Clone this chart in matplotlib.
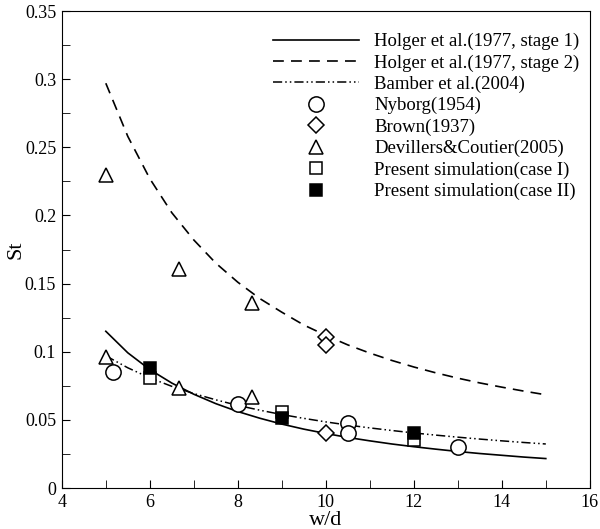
import matplotlib
matplotlib.use("Agg")
import matplotlib.pyplot as plt
from matplotlib.ticker import MultipleLocator

plt.rcParams['font.family'] = ['Liberation Serif', 'DejaVu Serif']

# Holger et al. (1977) curves, stage 1 and stage 2
curve_x = [5, 5.5, 6, 6.5, 7, 7.5, 8, 8.5, 9, 9.5, 10, 10.5, 11, 11.5,
           12, 12.5, 13, 13.5, 14, 14.5, 15]
holger_stage1 = [0.115, 0.0992, 0.0869, 0.0770, 0.0688, 0.0619, 0.0561, 0.0512,
                 0.0469, 0.0432, 0.0400, 0.0371, 0.0346, 0.0323, 0.0303, 0.0285,
                 0.0268, 0.0253, 0.0240, 0.0227, 0.0216]
holger_stage2 = [0.297, 0.258, 0.227, 0.202, 0.182, 0.165, 0.151, 0.139,
                 0.129, 0.1196, 0.112, 0.105, 0.099, 0.0936, 0.0888, 0.0845,
                 0.0806, 0.0771, 0.074, 0.0711, 0.0684]
# Bamber et al. (2004)
bamber = [0.097, 0.0882, 0.0808, 0.0746, 0.0693, 0.0647, 0.0606, 0.0571,
          0.0539, 0.0511, 0.0485, 0.0462, 0.0441, 0.0422, 0.0404, 0.0388,
          0.0373, 0.0359, 0.0346, 0.0334, 0.0323]

# experimental data
nyborg_x = [5.17, 8.0, 10.5, 10.5, 13.0]
nyborg_st = [0.0853, 0.0616, 0.0475, 0.0400, 0.0303]
brown_x = [10, 10, 10]
brown_st = [0.111, 0.105, 0.040]
devillers_x = [5, 5, 6.67, 6.67, 8.33, 8.33]
devillers_st = [0.230, 0.096, 0.1605, 0.0731, 0.136, 0.067]

# present simulations
case1_x = [6, 9, 12]
case1_st = [0.0805, 0.056, 0.0352]
case2_x = [6, 9, 12]
case2_st = [0.0878, 0.051, 0.0406]

fig = plt.figure(figsize=(6.0, 5.29), dpi=100)
ax = fig.add_axes([0.103, 0.0775, 0.88, 0.9017])

ax.plot(curve_x, holger_stage1, color='black', lw=1.2,
        label='Holger et al.(1977, stage 1)')
ax.plot(curve_x, holger_stage2, color='black', lw=1.2, dashes=(6.5, 4.3),
        label='Holger et al.(1977, stage 2)')
ax.plot(curve_x, bamber, color='black', lw=1.1, dashes=(6, 2, 1, 2, 1, 2),
        label='Bamber et al.(2004)')

ax.plot(nyborg_x, nyborg_st, 'o', ms=11, mfc='white', mec='black', mew=1.1,
        ls='none', label='Nyborg(1954)')
ax.plot(brown_x, brown_st, 'D', ms=8.5, mfc='white', mec='black', mew=1.1,
        ls='none', label='Brown(1937)')
ax.plot(devillers_x, devillers_st, '^', ms=10, mfc='white', mec='black', mew=1.1,
        ls='none', label='Devillers&Coutier(2005)')
ax.plot(case1_x, case1_st, 's', ms=8, mfc='white', mec='black', mew=1.1,
        ls='none', label='Present simulation(case I)')
ax.plot(case2_x, case2_st, 's', ms=8, mfc='black', mec='black', mew=1.1,
        ls='none', label='Present simulation(case II)')

ax.set_xlim(4, 16)
ax.set_ylim(0, 0.35)
ax.xaxis.set_major_locator(MultipleLocator(2))
ax.xaxis.set_minor_locator(MultipleLocator(1))
ax.yaxis.set_minor_locator(MultipleLocator(0.025))
ax.set_yticks([0, 0.05, 0.1, 0.15, 0.2, 0.25, 0.3, 0.35])
ax.set_yticklabels(['0', '0.05', '0.1', '0.15', '0.2', '0.25', '0.3', '0.35'])
ax.tick_params(which='both', direction='in', top=False, right=False,
               labelsize=13, length=6, pad=4)

ax.set_xlabel('w/d', fontsize=16)
ax.xaxis.set_label_coords(0.5, -0.048)
ax.set_ylabel('St', fontsize=16)
ax.yaxis.set_label_coords(-0.068, 0.5)

ax.legend(loc='upper right', frameon=False, fontsize=13.5, handlelength=4.6,
          labelspacing=0.22, handletextpad=0.8, borderaxespad=0.0,
          bbox_to_anchor=(0.995, 0.97))

fig.savefig('out.png', dpi=100)
